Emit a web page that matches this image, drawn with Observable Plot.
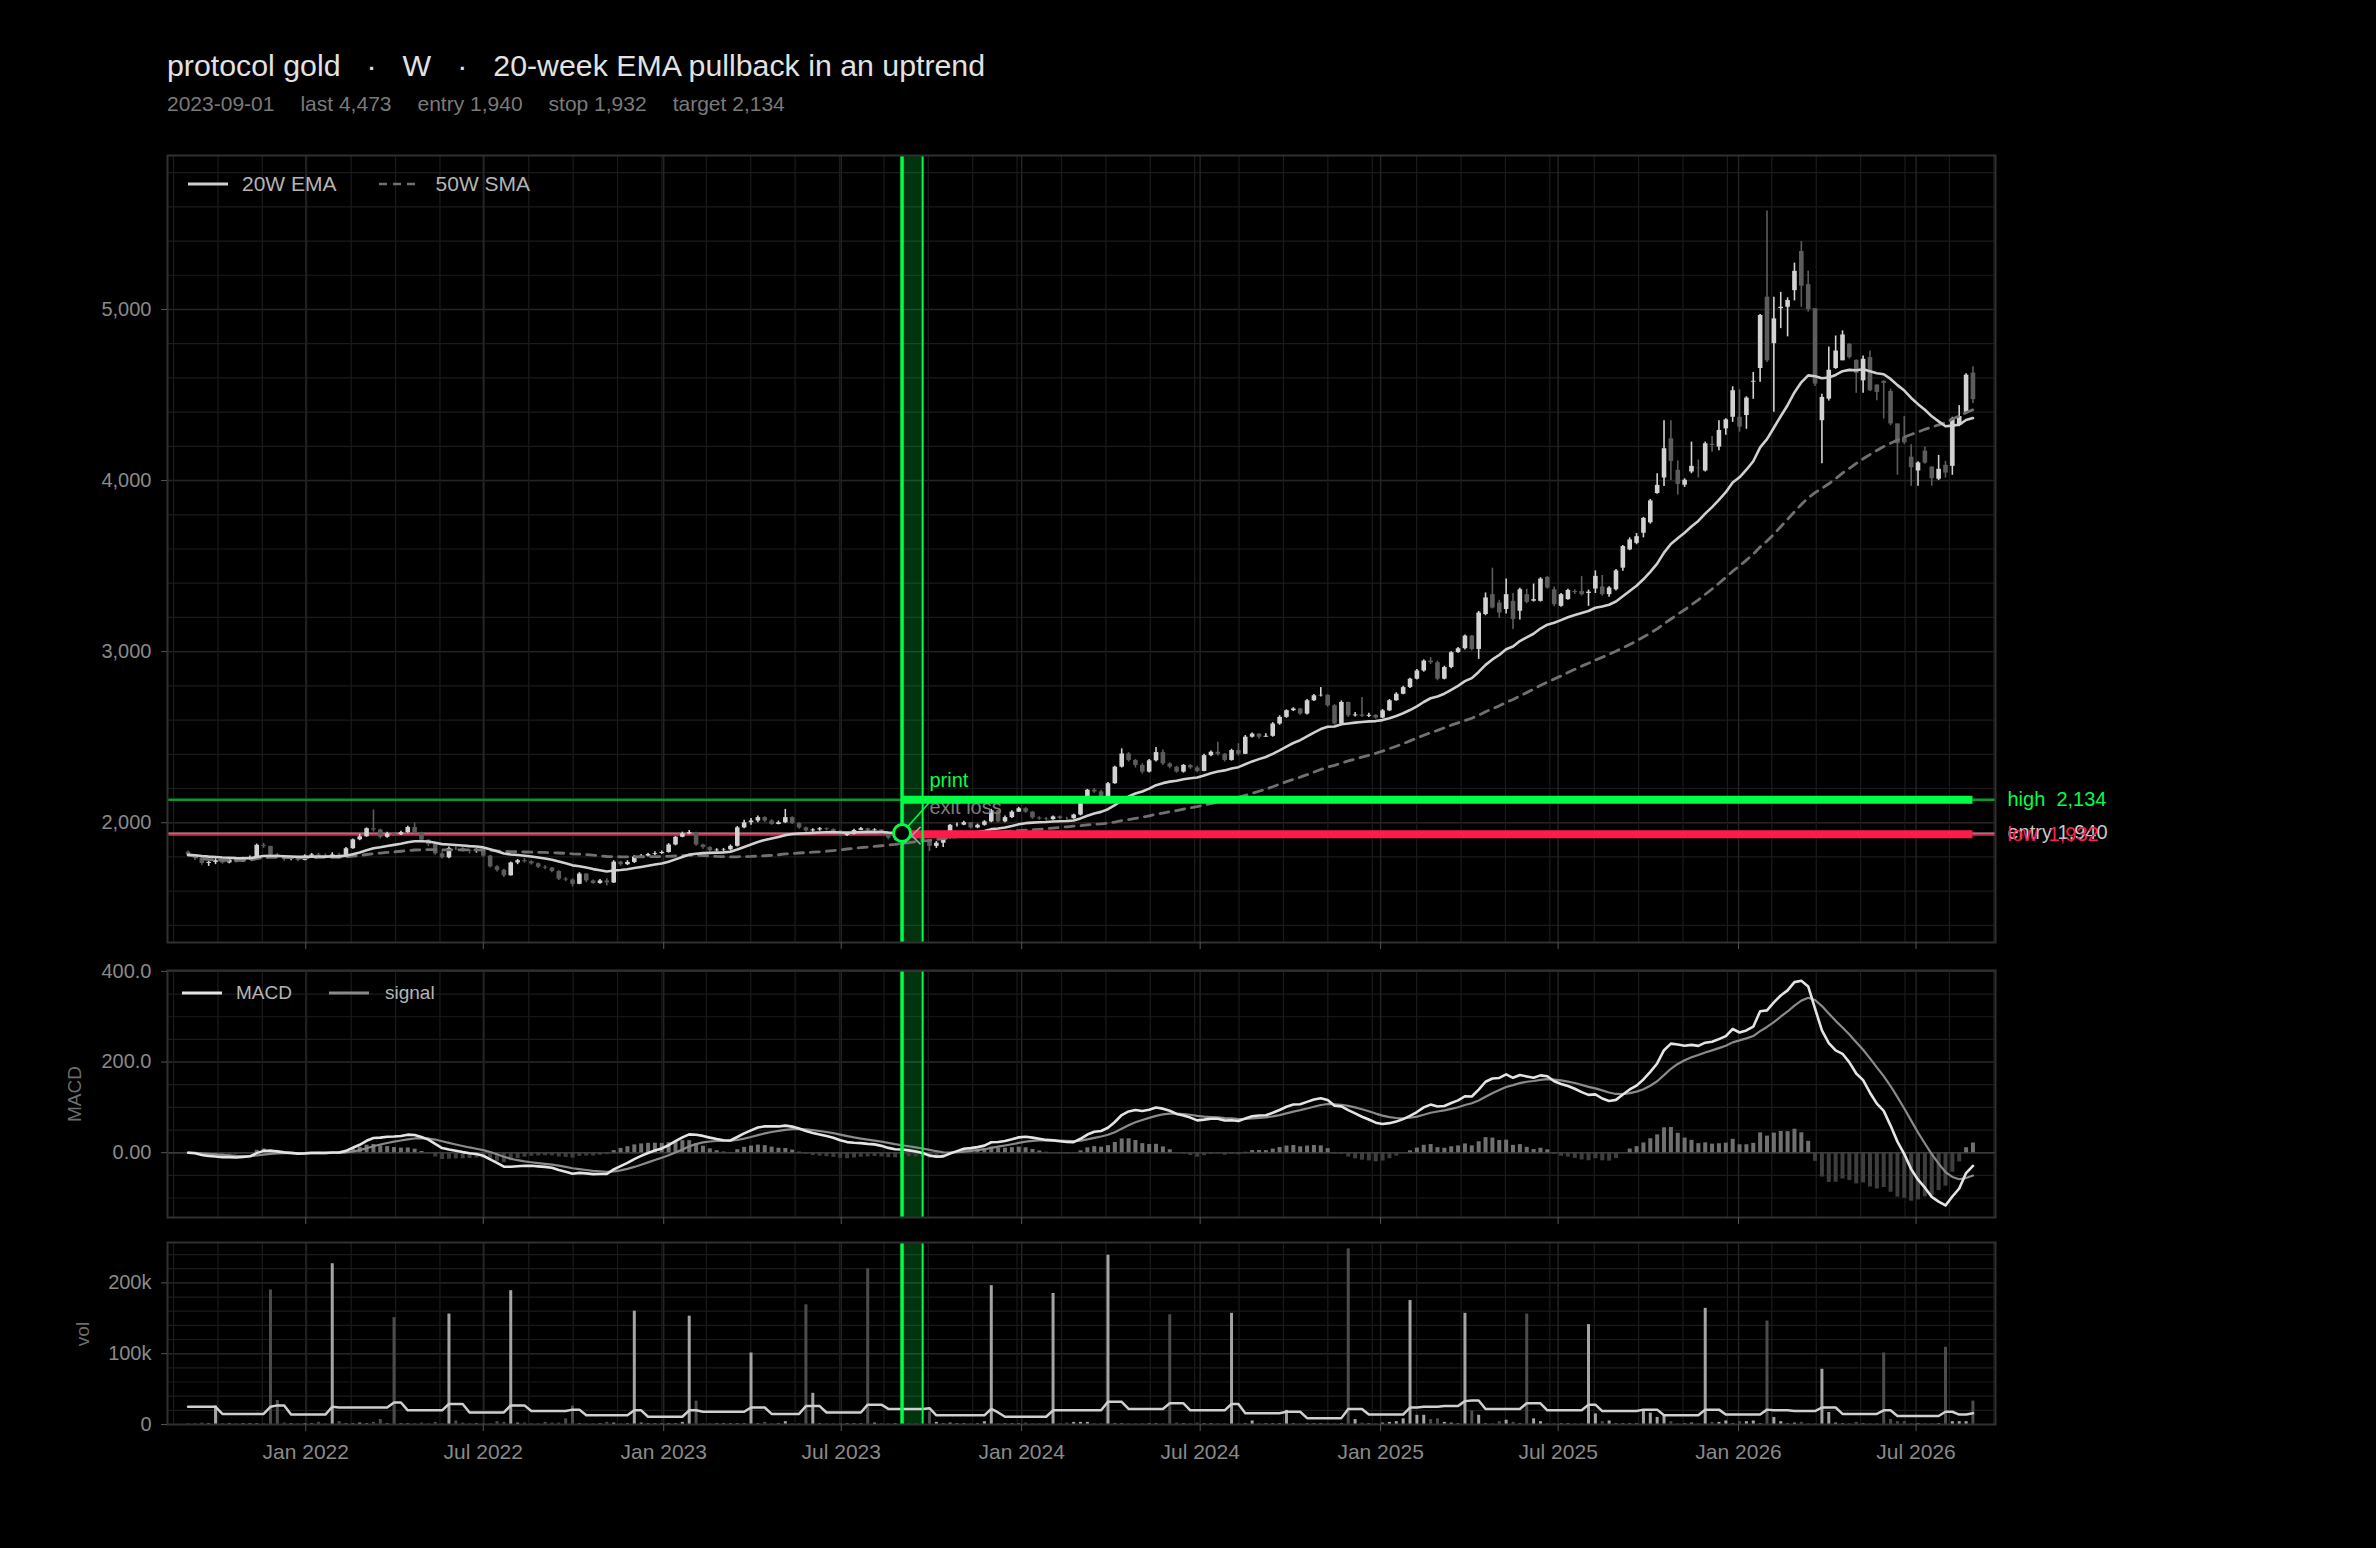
<!DOCTYPE html>
<html>
<head>
<meta charset="utf-8">
<script src="https://cdn.jsdelivr.net/npm/d3@7"></script>
<script src="https://cdn.jsdelivr.net/npm/@observablehq/plot@0.6"></script>
<style>
  html, body { margin:0; padding:0; background:#000; }
  #root { position:relative; width:2376px; height:1548px; background:#000; overflow:hidden;
          font-family:"Liberation Sans", Arial, Helvetica, sans-serif; }
  .abs { position:absolute; white-space:pre; }
  .title { left:167px; top:51px; font-size:30.3px; line-height:30px; color:#e2e2e2; }
  .title .sep { margin:0 26px; }
  .sub { left:167px; top:93px; font-size:21px; line-height:21px; color:#7a7a7a; }
  .sub span { margin-right:26px; }
  .legend { display:flex; align-items:center; color:#b4b4b4; height:24px; }
  .legend svg { display:block; }
  .ylab { color:#6e6e6e; font-size:19px; transform:translate(-50%,-50%) rotate(-90deg); }
  .panel { position:absolute; left:0; }
  .panel svg { overflow:visible; }
</style>
</head>
<body>
<div id="root"></div>
<script>
// ---------------- data ----------------
const titleParts = ["protocol gold", "W", "20-week EMA pullback in an uptrend"];
const signalDate = "2023-09-01";
const exitDate = "2023-09-22";
const lastPrice = 4473, entryPrice = 1940, stopPrice = 1932, targetPrice = 2134;
const firstWeek = "2021-09-03";   // weekly bars, one per Friday

const open = [
1828,1812,1795,1762,1768,1778,1765,1782,1772,1790,
1795,1868,1862,1812,1800,1785,1792,1780,1805,1812,
1806,1800,1812,1805,1848,1900,1918,1965,1958,1915,
1935,1930,1942,1972,1942,1898,1872,1818,1795,1850,
1848,1835,1832,1840,1805,1742,1722,1690,1765,1778,
1772,1760,1740,1735,1715,1670,1665,1640,1700,1660,
1645,1660,1648,1770,1755,1768,1800,1805,1815,1820,
1826,1870,1915,1935,1942,1870,1855,1836,1840,1842,
1862,1970,2000,2010,2030,2010,1990,2000,2030,1995,
1970,1952,1958,1965,1960,1950,1925,1932,1955,1965,
1955,1958,1932,1910,1918,1940,1925,1910,1895,1862,
1880,1910,1985,1986,2000,1970,1985,2005,2070,2005,
2030,2062,2082,2062,2028,2022,2018,2034,2025,2024,
2045,2140,2190,2180,2150,2228,2325,2402,2364,2335,
2296,2362,2410,2344,2325,2296,2335,2320,2300,2392,
2412,2400,2364,2422,2400,2500,2518,2500,2505,2577,
2616,2655,2665,2635,2713,2742,2745,2684,2577,2703,
2625,2630,2622,2628,2612,2654,2713,2751,2790,2839,
2887,2945,2935,2839,2907,2994,3017,3091,3013,3217,
3333,3284,3246,3294,3236,3333,3295,3294,3434,3362,
3265,3304,3352,3352,3340,3366,3378,3333,3362,3488,
3595,3633,3692,3753,3924,4015,4244,4060,3973,4050,
4072,4056,4212,4196,4302,4370,4370,4380,4575,4655,
5072,4800,5005,5013,5110,5339,5145,5004,4350,4476,
4655,4700,4796,4703,4583,4719,4558,4580,4521,4331,
4254,4137,4056,4172,4079,4008,4089,4083,4322,4399,4628];

const high = [
1835,1815,1800,1775,1790,1782,1790,1792,1798,1805,
1875,1880,1862,1820,1805,1800,1798,1812,1820,1822,
1818,1825,1822,1855,1905,1932,1970,2075,1962,1945,
1942,1950,1980,1998,1945,1900,1875,1830,1858,1860,
1855,1845,1848,1842,1808,1748,1728,1770,1785,1792,
1778,1765,1748,1738,1720,1680,1672,1708,1702,1665,
1668,1672,1778,1775,1778,1808,1815,1822,1830,1835,
1878,1920,1945,1955,1945,1875,1860,1848,1850,1870,
1978,2015,2025,2040,2035,2018,2010,2078,2035,2000,
1975,1965,1972,1970,1965,1955,1940,1962,1972,1968,
1965,1960,1935,1925,1948,1945,1930,1915,1900,1890,
1918,1990,1998,2008,2002,1992,2012,2078,2075,2040,
2070,2090,2088,2065,2035,2030,2040,2040,2032,2050,
2148,2195,2200,2190,2235,2330,2432,2410,2370,2345,
2370,2440,2425,2350,2330,2340,2340,2330,2400,2420,
2470,2405,2430,2462,2510,2525,2520,2520,2585,2625,
2660,2672,2668,2720,2750,2790,2748,2690,2712,2705,
2645,2732,2640,2632,2662,2720,2760,2798,2845,2895,
2952,2965,2945,2915,3000,3025,3098,3095,3235,3343,
3488,3300,3424,3340,3370,3365,3395,3432,3440,3378,
3340,3365,3362,3440,3360,3472,3445,3380,3480,3620,
3665,3690,3785,3890,4040,4350,4350,4115,4010,4225,
4120,4225,4258,4350,4362,4548,4530,4490,4632,4970,
5575,5072,5100,5068,5271,5397,5223,5005,4505,4780,
4845,4875,4802,4705,4728,4757,4560,4583,4535,4331,
4374,4209,4110,4196,4080,4147,4112,4370,4438,4625,4665];

const low = [
1800,1780,1752,1745,1755,1758,1760,1765,1768,1782,
1790,1850,1800,1792,1775,1778,1772,1778,1798,1800,
1795,1795,1798,1800,1845,1895,1915,1945,1905,1910,
1922,1925,1938,1935,1890,1860,1810,1788,1790,1838,
1828,1818,1822,1798,1735,1712,1680,1688,1755,1765,
1752,1732,1725,1708,1662,1655,1625,1638,1650,1640,
1640,1630,1645,1745,1750,1762,1795,1800,1808,1815,
1822,1865,1912,1930,1862,1845,1828,1830,1832,1835,
1858,1965,1985,2000,2002,1985,1988,1995,1990,1962,
1945,1945,1950,1952,1945,1918,1920,1928,1955,1948,
1950,1925,1900,1895,1912,1915,1900,1885,1832,1850,
1855,1905,1975,1982,1962,1965,1980,2000,1998,2000,
2025,2060,2055,2020,2015,2010,2015,2018,2015,2020,
2040,2130,2172,2140,2145,2225,2320,2355,2320,2285,
2290,2355,2335,2315,2290,2290,2312,2292,2298,2385,
2390,2355,2360,2390,2398,2495,2490,2500,2500,2570,
2610,2650,2628,2630,2708,2735,2675,2570,2567,2615,
2618,2615,2615,2605,2608,2650,2710,2748,2785,2835,
2880,2925,2830,2835,2900,2990,3010,3005,2955,3210,
3250,3195,3220,3130,3185,3280,3290,3290,3365,3262,
3260,3300,3335,3325,3265,3340,3325,3318,3355,3470,
3590,3625,3665,3745,3920,3965,4000,3915,3960,4040,
4015,4050,4165,4175,4265,4340,4283,4300,4475,4575,
4690,4400,4888,4840,5050,5013,4985,4550,4098,4465,
4650,4700,4710,4510,4510,4520,4467,4360,4320,4031,
4210,3967,3967,4095,3967,4000,4015,4031,4315,4387,4450];

const close = [
1812,1795,1762,1768,1778,1765,1782,1772,1790,1795,
1868,1862,1812,1800,1785,1792,1780,1805,1812,1806,
1800,1812,1805,1848,1900,1918,1965,1958,1915,1935,
1930,1942,1972,1942,1898,1872,1818,1795,1850,1848,
1835,1832,1840,1805,1742,1722,1690,1765,1778,1772,
1760,1740,1735,1715,1670,1665,1640,1700,1660,1645,
1660,1648,1770,1755,1768,1800,1805,1815,1820,1826,
1870,1915,1935,1942,1870,1855,1836,1840,1842,1862,
1970,2000,2010,2030,2010,1990,2000,2030,1995,1970,
1952,1958,1965,1960,1950,1925,1932,1955,1965,1955,
1958,1932,1910,1918,1940,1925,1910,1895,1862,1880,
1910,1985,1986,2000,1970,1985,2005,2070,2005,2030,
2062,2082,2062,2028,2022,2018,2034,2025,2024,2045,
2140,2190,2180,2150,2228,2325,2402,2364,2335,2296,
2362,2410,2344,2325,2296,2335,2320,2300,2392,2412,
2400,2364,2422,2400,2500,2518,2500,2505,2577,2616,
2655,2665,2635,2713,2742,2745,2684,2577,2703,2625,
2630,2622,2628,2612,2654,2713,2751,2790,2839,2887,
2945,2935,2839,2907,2994,3017,3091,3013,3226,3314,
3255,3226,3333,3188,3362,3288,3304,3424,3372,3275,
3333,3358,3345,3333,3348,3440,3333,3372,3472,3614,
3653,3672,3779,3881,3972,4186,4112,3978,4002,4083,
4070,4215,4205,4293,4355,4525,4312,4482,4580,4965,
4700,4945,5013,5052,5223,5136,5000,4564,4486,4645,
4757,4851,4719,4626,4709,4525,4515,4568,4331,4215,
4221,4075,4103,4102,4011,4066,4044,4360,4374,4616,4473];

// weekly volume, thousands
const volume = [
1,1,2,1,26,1,1,1,1,1,
1,1,190,34,2,1,1,1,1,3,
1,227,4,1,1,2,1,3,7,1,
151,1,1,1,2,1,3,1,156,5,
2,1,1,1,1,4,3,189,2,2,
1,1,3,2,2,8,26,1,1,1,
1,3,2,1,1,160,2,1,1,1,
1,1,3,153,33,1,1,1,1,1,
1,1,101,1,3,1,1,4,1,1,
169,44,1,1,1,1,1,1,1,220,
2,1,1,1,1,1,1,1,18,3,
1,2,1,1,1,1,4,196,1,1,
1,1,2,1,1,1,185,1,2,3,
3,3,1,1,239,1,1,1,1,1,
1,1,1,155,2,1,1,2,1,1,
1,1,157,1,1,5,1,1,1,1,
20,1,1,1,1,1,1,1,1,248,
7,2,1,1,2,3,4,8,175,13,
13,7,8,3,2,1,157,19,13,1,
1,4,6,3,1,156,8,4,1,1,
1,1,1,1,141,15,4,5,1,1,
1,1,21,16,10,13,4,1,1,2,
1,164,3,3,5,1,4,4,5,1,
146,10,4,1,2,3,1,1,78,17,
2,1,1,3,1,1,1,101,7,4,
4,1,1,1,1,1,109,4,4,4,33];

// average-volume line, thousands
const volAvg = [
25,25,25,25,25,15,15,15,15,15,
15,15,25,27,27,14,14,14,14,14,
14,25,24,24,24,24,24,24,24,24,
31,31,20,20,20,20,20,20,29,29,
29,17,17,17,17,17,17,27,27,27,
19,19,19,19,19,19,21,21,13,13,
13,13,13,13,13,20,20,11,11,11,
11,11,11,20,20,18,18,18,18,18,
18,18,24,24,24,15,15,15,15,15,
26,26,26,17,17,17,17,17,17,28,
28,28,22,22,22,22,22,22,23,13,
13,13,13,13,13,13,13,22,17,11,
11,11,11,11,11,11,20,20,20,20,
20,20,20,20,32,32,32,22,22,22,
22,22,22,30,30,30,20,20,20,20,
20,20,29,29,16,16,16,16,16,16,
18,18,18,9,9,9,9,9,9,22,
22,22,14,14,14,14,14,14,24,24,
25,25,25,26,26,26,33,34,34,22,
22,22,22,22,22,30,30,30,20,20,
20,20,20,20,28,28,19,19,19,19,
19,19,21,21,21,13,13,13,13,13,
13,21,21,21,14,14,14,14,14,14,
21,20,20,20,19,19,19,19,24,24,
24,15,15,15,15,15,15,20,20,12,
12,12,12,12,12,12,18,18,14,14,16];

const xTickLabels = ["Jan 2022","Jul 2022","Jan 2023","Jul 2023","Jan 2024","Jul 2024","Jan 2025","Jul 2025","Jan 2026","Jul 2026"];
const priceTicks = [2000, 3000, 4000, 5000];
const macdTicks = [0, 200, 400];
const macdTickLabels = ["0.00", "200.0", "400.0"];
const volTicks = [0, 100, 200];
const volTickLabels = ["0", "100k", "200k"];
const levelLabels = [
  {y: targetPrice, t: "high\u00a0\u00a02,134", c: "#00ff44"},
  {y: entryPrice, t: "entry 1,940", c: "#c8c8c8"},
  {y: stopPrice, t: "low\u00a0\u00a01,932", c: "#ff1f4f"}
];
const annotations = {
  printText: "print", printDate: "2023-09-29", printY: 2245,
  exitText: "exit loss", exitTextY: 2088,
  exitMarkDate: "2023-09-11", exitMarkY: 1925,
  linkEndDate: "2023-09-29", linkEndY: 2120
};

// ---------------- derived ----------------
const DAY = 864e5;
const t0 = Date.parse(firstWeek);
const dates = close.map((_, i) => new Date(t0 + i * 7 * DAY));
const bars = close.map((c, i) => ({date: dates[i], o: open[i], h: high[i], l: low[i], c, up: c >= open[i], v: volume[i], va: volAvg[i]}));
function ema(arr, n) { const a = 2 / (n + 1), out = []; arr.forEach((v, i) => out.push(i ? a * v + (1 - a) * out[i - 1] : v)); return out; }
const ema20 = ema(close, 20);
const sma50 = close.map((_, i) => d3.mean(close.slice(Math.max(0, i - 49), i + 1)));
const e12 = ema(close, 12), e26 = ema(close, 26);
const macd = e12.map((v, i) => v - e26[i]);
const sig = ema(macd, 9);
const hist = macd.map((v, i) => v - sig[i]);

const sigD = new Date(signalDate), exitD = new Date(exitDate), lastD = dates[dates.length - 1];
const xDomain = [new Date("2021-08-13"), new Date("2026-09-20")];
const xMajor = xTickLabels.map(d3.utcParse("%b %Y"));
const gridAnchor = Date.parse("2022-01-02");
const xMinor = d3.range(-4, 40).map(k => new Date(gridAnchor + k * 45.27 * DAY)).filter(d => d > xDomain[0] && d < xDomain[1]);

// ---------------- styling ----------------
const W = 2376, ML = 167, MR = 381;
const UP = "#d2d2d2", DN = "#5c5c5c";
const GRID = "#1b1b1b", GRIDM = "#242424";
const GREEN = "#00ff44";
const FONT = '"Liberation Sans", Arial, Helvetica, sans-serif';
const common = {
  width: W, marginLeft: ML, marginRight: MR,
  x: {type: "utc", domain: xDomain},
  color: {type: "identity"},
  style: {background: "transparent", color: "#8a8a8a", fontSize: "20px", fontFamily: FONT, overflow: "visible"}
};
const band = () => Plot.rect([{a: sigD, b: exitD}], {x1: "a", x2: "b", fill: GREEN, fillOpacity: 0.2});
const vlines = () => [
  Plot.ruleX([sigD], {stroke: GREEN, strokeWidth: 3.5}),
  Plot.ruleX([exitD], {stroke: GREEN, strokeWidth: 2})
];
const xgrid = () => [
  Plot.ruleX(xMinor, {stroke: GRID, strokeWidth: 1.2}),
  Plot.ruleX(xMajor, {stroke: GRIDM, strokeWidth: 1.4})
];

const root = document.getElementById("root");
function addHTML(html) { root.insertAdjacentHTML("beforeend", html); }
function addPlot(el, top) { const d = document.createElement("div"); d.className = "panel"; d.style.top = top + "px"; d.appendChild(el); root.appendChild(d); }

// titles
addHTML(`<div class="abs title">${titleParts[0]}<span class="sep">·</span>${titleParts[1]}<span class="sep">·</span>${titleParts[2]}</div>`);
const f = d3.format(",");
addHTML(`<div class="abs sub"><span>${signalDate}</span><span>last ${f(lastPrice)}</span><span>entry ${f(entryPrice)}</span><span>stop ${f(stopPrice)}</span><span>target ${f(targetPrice)}</span></div>`);

// ---------------- price panel ----------------
const pricePlot = Plot.plot({
  ...common, height: 817, marginTop: 10, marginBottom: 20,
  y: {domain: [1300, 5900]},
  marks: [
    Plot.frame({fill: "#000", stroke: null}),
    Plot.ruleY(d3.range(1400, 5900, 200), {stroke: GRID, strokeWidth: 1.2}),
    Plot.ruleY(priceTicks, {stroke: GRIDM, strokeWidth: 1.4}),
    ...xgrid(),
    band(),
    Plot.ruleY([targetPrice], {stroke: "#0a9a2c", strokeWidth: 2.5}),
    Plot.ruleY([stopPrice], {stroke: "#c0304f", strokeWidth: 3}),
    Plot.ruleY([entryPrice], {stroke: "#d8a8b4", strokeWidth: 1.2, strokeOpacity: 0.8}),
    Plot.ruleX(bars, {x: "date", y1: "l", y2: "h", stroke: d => d.up ? UP : DN, strokeWidth: 1.6}),
    Plot.ruleX(bars, {x: "date", y1: "o", y2: "c", stroke: d => d.up ? UP : DN, strokeWidth: 4.6}),
    Plot.line(sma50, {x: dates, y: d => d, stroke: "#707070", strokeWidth: 2.8, strokeDasharray: "9,7"}),
    Plot.line(ema20, {x: dates, y: d => d, stroke: "#d0d0d0", strokeWidth: 2.6}),
    Plot.text([annotations.exitText], {x: new Date(annotations.printDate), y: annotations.exitTextY, text: d => d, textAnchor: "start", fill: "#7c7c7c", fontSize: 20}),
    Plot.ruleY([{y: targetPrice, a: sigD, b: lastD}], {y: "y", x1: "a", x2: "b", stroke: GREEN, strokeWidth: 8}),
    Plot.ruleY([{y: stopPrice, a: sigD, b: lastD}], {y: "y", x1: "a", x2: "b", stroke: "#ff1a4a", strokeWidth: 8}),
    ...vlines(),
    Plot.link([{x1: sigD, y1: entryPrice, x2: new Date(annotations.linkEndDate), y2: annotations.linkEndY}], {x1: "x1", y1: "y1", x2: "x2", y2: "y2", stroke: GREEN, strokeWidth: 1.6}),
    Plot.dot([{x: new Date(annotations.exitMarkDate), y: annotations.exitMarkY}], {x: "x", y: "y", symbol: "times", r: 8, stroke: "#a0a0a0", strokeWidth: 1.6}),
    Plot.dot([{x: sigD, y: entryPrice}], {x: "x", y: "y", r: 8.5, stroke: GREEN, strokeWidth: 3, fill: "#000"}),
    Plot.text([annotations.printText], {x: new Date(annotations.printDate), y: annotations.printY, text: d => d, textAnchor: "start", fill: GREEN, fontSize: 20}),
    Plot.text(levelLabels, {x: () => xDomain[1], y: "y", text: "t", fill: "c", textAnchor: "start", dx: 12, fontSize: 20}),
    Plot.frame({stroke: "#303030", strokeWidth: 2}),
    Plot.axisY(priceTicks, {tickFormat: d3.format(","), tickSize: 6, tickPadding: 10, label: null, stroke: "#555", fill: "#8a8a8a", fontSize: 20}),
    Plot.axisX(xMajor, {tickFormat: () => "", tickSize: 7, label: null, stroke: "#555"})
  ]
});
addPlot(pricePlot, 145);

// price legend
addHTML(`<div class="abs legend" style="left:188px; top:172px; font-size:21px;">
  <svg width="40" height="6"><line x1="0" y1="3" x2="40" y2="3" stroke="#cfcfcf" stroke-width="3"/></svg>
  <span style="margin-left:14px;">20W EMA</span>
  <svg width="37" height="6" style="margin-left:42px;"><line x1="0" y1="3" x2="37" y2="3" stroke="#707070" stroke-width="2.5" stroke-dasharray="8,6"/></svg>
  <span style="margin-left:20px;">50W SMA</span></div>`);

// ---------------- MACD panel ----------------
const macdPlot = Plot.plot({
  ...common, height: 277, marginTop: 10, marginBottom: 20,
  y: {domain: [-143, 402]},
  marks: [
    Plot.frame({fill: "#000", stroke: null}),
    Plot.ruleY(d3.range(-100, 401, 50), {stroke: GRID, strokeWidth: 1.2}),
    Plot.ruleY(macdTicks, {stroke: GRIDM, strokeWidth: 1.4}),
    ...xgrid(),
    band(),
    Plot.ruleY([0], {stroke: "#3a3a3a", strokeWidth: 1.5}),
    Plot.ruleX(hist, {x: dates, y1: 0, y2: d => d, stroke: d => d >= 0 ? "#707070" : "#3e3e3e", strokeWidth: 4}),
    Plot.line(sig, {x: dates, y: d => d, stroke: "#8a8a8a", strokeWidth: 2.2}),
    Plot.line(macd, {x: dates, y: d => d, stroke: "#e4e4e4", strokeWidth: 2.6}),
    ...vlines(),
    Plot.frame({stroke: "#303030", strokeWidth: 2}),
    Plot.axisY(macdTicks, {tickFormat: d => macdTickLabels[macdTicks.indexOf(d)], tickSize: 6, tickPadding: 10, label: null, stroke: "#555", fill: "#8a8a8a", fontSize: 20}),
    Plot.axisX(xMajor, {tickFormat: () => "", tickSize: 7, label: null, stroke: "#555"})
  ]
});
addPlot(macdPlot, 960);
addHTML(`<div class="abs legend" style="left:182px; top:981px; font-size:19px;">
  <svg width="40" height="6"><line x1="0" y1="3" x2="40" y2="3" stroke="#e4e4e4" stroke-width="3"/></svg>
  <span style="margin-left:14px;">MACD</span>
  <svg width="40" height="6" style="margin-left:37px;"><line x1="0" y1="3" x2="40" y2="3" stroke="#8a8a8a" stroke-width="3"/></svg>
  <span style="margin-left:16px;">signal</span></div>`);
addHTML(`<div class="abs ylab" style="left:75px; top:1094px;">MACD</div>`);

// ---------------- volume panel ----------------
const volPlot = Plot.plot({
  ...common, height: 248, marginTop: 10, marginBottom: 56,
  y: {domain: [0, 257]},
  marks: [
    Plot.frame({fill: "#000", stroke: null}),
    Plot.ruleY(d3.range(20, 257, 20), {stroke: GRID, strokeWidth: 1.2}),
    Plot.ruleY([100, 200], {stroke: GRIDM, strokeWidth: 1.4}),
    ...xgrid(),
    band(),
    Plot.ruleX(bars, {x: "date", y1: 0, y2: "v", stroke: d => d.up ? "#a4a4a4" : "#4c4c4c", strokeWidth: 3}),
    Plot.line(bars, {x: "date", y: "va", stroke: "#cfcfcf", strokeWidth: 2.5}),
    ...vlines(),
    Plot.frame({stroke: "#303030", strokeWidth: 2}),
    Plot.axisY(volTicks, {tickFormat: d => volTickLabels[volTicks.indexOf(d)], tickSize: 6, tickPadding: 10, label: null, stroke: "#555", fill: "#8a8a8a", fontSize: 20}),
    Plot.axisX(xMajor, {tickFormat: d => xTickLabels[xMajor.findIndex(m => +m === +d)], tickSize: 7, tickPadding: 13, label: null, stroke: "#555", fill: "#8a8a8a", fontSize: 21})
  ]
});
addPlot(volPlot, 1232);
addHTML(`<div class="abs ylab" style="left:83px; top:1334px;">vol</div>`);
</script>
</body>
</html>
